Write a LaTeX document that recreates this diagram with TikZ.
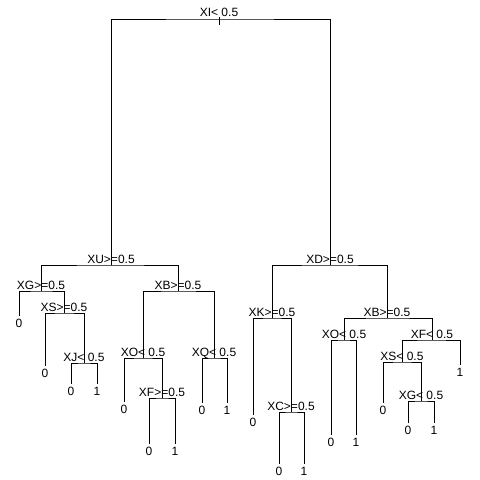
\documentclass[tikz,border=0pt]{standalone}
\usepackage{fontspec}
\setmainfont{Liberation Sans}
\begin{document}
\begin{tikzpicture}[x=1pt,y=-1pt,line width=1pt,
  lab/.style={anchor=base,inner sep=0pt,font=\fontsize{12}{14}\selectfont},
  leaf/.style={anchor=north,inner sep=0pt,font=\fontsize{12}{14}\selectfont}]
\useasboundingbox[fill=white] (0,0) rectangle (480,480);
% split points
\coordinate (XI) at (219,19);
\coordinate (XU) at (111,265);
\coordinate (XD) at (330,265);
\coordinate (XG) at (41,291);
\coordinate (XB) at (178,291);
\coordinate (XS) at (64,313);
\coordinate (XJ) at (84,363);
\coordinate (XO) at (143,358);
\coordinate (XF) at (162,398);
\coordinate (XQ) at (214,358);
\coordinate (XK) at (272,318);
\coordinate (XC) at (291,412);
\coordinate (XBb) at (387,318);
\coordinate (XOb) at (344,340);
\coordinate (XFb) at (432,340);
\coordinate (XSb) at (402,362);
\coordinate (XGb) at (421,401);
% leaves
\coordinate (L1) at (19,316);
\coordinate (L2) at (45,366);
\coordinate (L3) at (71,384);
\coordinate (L4) at (97,384);
\coordinate (L5) at (124,402);
\coordinate (L6) at (149,444);
\coordinate (L7) at (175,444);
\coordinate (L8) at (202,403);
\coordinate (L9) at (227,403);
\coordinate (L10) at (253,415);
\coordinate (L11) at (279,464);
\coordinate (L12) at (304,464);
\coordinate (L13) at (331,435);
\coordinate (L14) at (356,435);
\coordinate (L15) at (383,403);
\coordinate (L16) at (408,423);
\coordinate (L17) at (434,423);
\coordinate (L18) at (460,365);
% root tick
\coordinate (RT1) at (219,16.5);
\coordinate (RT2) at (219,25);
\draw (RT1) -- (RT2);
% connectors
\draw (XU) |- (XI) -| (XD);
\draw (XG) |- (XU) -| (XB);
\draw (L1) |- (XG) -| (XS);
\draw (L2) |- (XS) -| (XJ);
\draw (L3) |- (XJ) -| (L4);
\draw (XO) |- (XB) -| (XQ);
\draw (L5) |- (XO) -| (XF);
\draw (L6) |- (XF) -| (L7);
\draw (L8) |- (XQ) -| (L9);
\draw (XK) |- (XD) -| (XBb);
\draw (L10) |- (XK) -| (XC);
\draw (L11) |- (XC) -| (L12);
\draw (XOb) |- (XBb) -| (XFb);
\draw (L13) |- (XOb) -| (L14);
\draw (XSb) |- (XFb) -| (L18);
\draw (L15) |- (XSb) -| (XGb);
\draw (L16) |- (XGb) -| (L17);
% split labels
\node[lab] (tXI) at (219,16) {XI< 0.5};
\node[lab] (tXU) at (111,263) {XU>=0.5};
\node[lab] (tXD) at (330,263) {XD>=0.5};
\node[lab] (tXG) at (41,289) {XG>=0.5};
\node[lab] (tXB) at (178,289) {XB>=0.5};
\node[lab] (tXS) at (64,311) {XS>=0.5};
\node[lab] (tXJ) at (84,361) {XJ< 0.5};
\node[lab] (tXO) at (143,356) {XO< 0.5};
\node[lab] (tXF) at (162,396) {XF>=0.5};
\node[lab] (tXQ) at (214,356) {XQ< 0.5};
\node[lab] (tXK) at (272,316) {XK>=0.5};
\node[lab] (tXC) at (291,410) {XC>=0.5};
\node[lab] (tXBb) at (387,316) {XB>=0.5};
\node[lab] (tXOb) at (344,338) {XO< 0.5};
\node[lab] (tXFb) at (432,338) {XF< 0.5};
\node[lab] (tXSb) at (402,360) {XS< 0.5};
\node[lab] (tXGb) at (421,399) {XG< 0.5};
% leaf labels
\node[leaf] (n1) at (19,319) {0};
\node[leaf] (n2) at (45,369) {0};
\node[leaf] (n3) at (71,387) {0};
\node[leaf] (n4) at (97,387) {1};
\node[leaf] (n5) at (124,405) {0};
\node[leaf] (n6) at (149,447) {0};
\node[leaf] (n7) at (175,447) {1};
\node[leaf] (n8) at (202,406) {0};
\node[leaf] (n9) at (227,406) {1};
\node[leaf] (n10) at (253,418) {0};
\node[leaf] (n11) at (279,467) {0};
\node[leaf] (n12) at (304,467) {1};
\node[leaf] (n13) at (331,438) {0};
\node[leaf] (n14) at (356,438) {1};
\node[leaf] (n15) at (383,406) {0};
\node[leaf] (n16) at (408,426) {0};
\node[leaf] (n17) at (434,426) {1};
\node[leaf] (n18) at (460,368) {1};
\end{tikzpicture}
\end{document}
